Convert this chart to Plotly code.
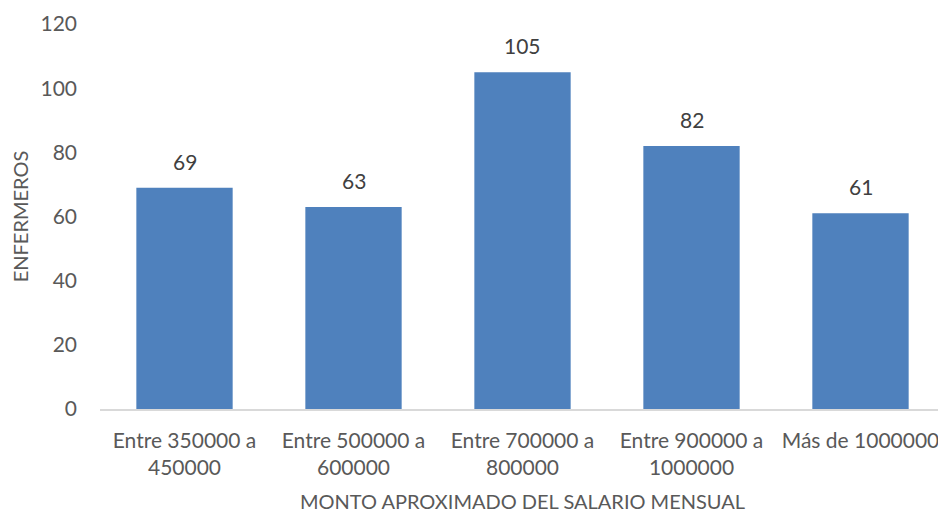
import plotly.graph_objects as go

categories = ["Entre 350000 a<br>450000", "Entre 500000 a<br>600000", "Entre 700000 a<br>800000",
              "Entre 900000 a<br>1000000", "Más de 1000000"]
values = [69, 63, 105, 82, 61]
y_ticks = [0, 20, 40, 60, 80, 100, 120]

FONT = "Lato, Carlito, Calibri, sans-serif"
GREY = "#595959"

fig = go.Figure(go.Bar(
    x=categories, y=values, marker_color="#4F81BD", marker_line_width=0,
    width=0.57,
))

for c, v in zip(categories, values):
    fig.add_annotation(x=c, y=v, text=str(v), showarrow=False, yanchor="bottom", yshift=12,
                       font=dict(family=FONT, size=21, color="#404040"))

fig.update_layout(
    width=938, height=507,
    margin=dict(l=92, r=1, t=16, b=106),
    paper_bgcolor="white", plot_bgcolor="white",
    font=dict(family=FONT, size=21, color=GREY),
    showlegend=False,
    xaxis=dict(showline=True, linecolor="#D9D9D9", linewidth=1.5, ticks="", automargin=False,
               tickfont=dict(size=21, color=GREY), ticklabelstandoff=12,
               title=dict(text="MONTO APROXIMADO DEL SALARIO MENSUAL", font=dict(size=20, color=GREY), standoff=17)),
    yaxis=dict(range=[0, 120], tickvals=y_ticks, showgrid=False, zeroline=False, showline=False,
               automargin=False,
               tickfont=dict(size=21, color=GREY), ticklabelstandoff=22,
               title=dict(text="ENFERMEROS", font=dict(size=20, color=GREY), standoff=28)),
)

fig.write_html("out.html")
